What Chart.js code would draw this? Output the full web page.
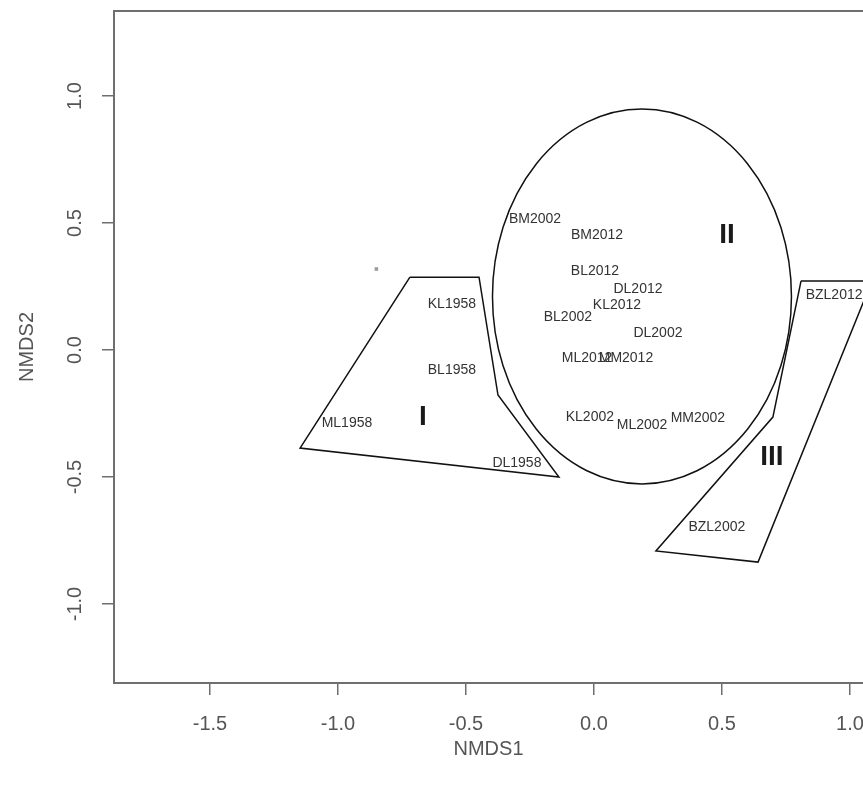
<!DOCTYPE html>
<html>
<head>
<meta charset="utf-8">
<script src="https://cdn.jsdelivr.net/npm/chart.js@4.4.1/dist/chart.umd.min.js"></script>
<style>
    html, body { margin: 0; padding: 0; background: #fff; overflow: hidden; }
    /* the plot box runs off the right edge of the window, like the source image */
    #wrap { width: 867px; height: 785px; }
</style>
</head>
<body>
<div id="wrap"><canvas id="nmds_chart"></canvas></div>
<script>
// site scores
const siteNames = ['BM2002', 'BM2012', 'BL2012', 'DL2012', 'KL2012', 'BL2002', 'DL2002',
    'ML2012', 'MM2012', 'KL2002', 'ML2002', 'MM2002', 'BZL2012', 'BZL2002',
    'KL1958', 'BL1958', 'ML1958', 'DL1958'];
const siteX = [-0.230, 0.012, 0.004, 0.172, 0.090, -0.102, 0.250,
    -0.027, 0.125, -0.016, 0.188, 0.406, 0.938, 0.480,
    -0.555, -0.555, -0.965, -0.301];
const siteY = [0.516, 0.453, 0.311, 0.240, 0.177, 0.130, 0.067,
    -0.031, -0.031, -0.264, -0.295, -0.268, 0.217, -0.697,
    0.181, -0.079, -0.287, -0.445];

// the lone tiny mark left of group I
const strayX = [-0.850];
const strayY = [0.319];

// group names
const groupNames = ['I', 'II', 'III'];
const groupX = [-0.668, 0.520, 0.695];
const groupY = [-0.264, 0.453, -0.421];

// outlines of group I and group III (first vertex repeated to close)
const hullIX = [-0.719, -0.449, -0.375, -0.137, -1.148, -0.719];
const hullIY = [0.287, 0.287, -0.177, -0.500, -0.386, 0.287];
const hullIIIX = [0.809, 1.086, 0.641, 0.242, 0.699, 0.809];
const hullIIIY = [0.272, 0.272, -0.835, -0.791, -0.264, 0.272];

// group II ellipse: centre and half-widths
const ellipseCenter = [0.1875, 0.211];
const ellipseRadius = [0.584, 0.738];

// axes
const xTicks = [-1.5, -1.0, -0.5, 0.0, 0.5, 1.0];
const yTicks = [-1.0, -0.5, 0.0, 0.5, 1.0];
const xRange = [-1.875, 1.051];
const yRange = [-1.311, 1.335];

function toPoints(xs, ys) {
    return xs.map((v, i) => ({ x: v, y: ys[i] }));
}

const axisGrey = '#6f6f6f';
const textGrey = '#555555';
const fontFam = '"Liberation Sans", Arial, sans-serif';

// draws the group II ellipse through the chart's scales
const ellipsePlugin = {
    id: 'ellipseII',
    beforeDatasetsDraw(chart) {
        const { ctx, chartArea, scales } = chart;
        const cx = scales.x.getPixelForValue(ellipseCenter[0]);
        const cy = scales.y.getPixelForValue(ellipseCenter[1]);
        const rx = scales.x.getPixelForValue(ellipseCenter[0] + ellipseRadius[0]) - cx;
        const ry = cy - scales.y.getPixelForValue(ellipseCenter[1] + ellipseRadius[1]);
        ctx.save();
        ctx.beginPath();
        ctx.rect(chartArea.left, chartArea.top, chartArea.width, chartArea.height);
        ctx.clip();
        ctx.beginPath();
        ctx.ellipse(cx, cy, rx, ry, 0, 0, Math.PI * 2);
        ctx.lineWidth = 1.5;
        ctx.strokeStyle = '#111';
        ctx.stroke();
        ctx.restore();
    }
};

// writes text labels at the points of datasets that carry a "labels" list
const textPlugin = {
    id: 'pointText',
    afterDatasetsDraw(chart) {
        const { ctx, chartArea } = chart;
        ctx.save();
        ctx.beginPath();
        ctx.rect(chartArea.left, chartArea.top, chartArea.width, chartArea.height);
        ctx.clip();
        chart.data.datasets.forEach((ds, di) => {
            if (!ds.labels) return;
            const meta = chart.getDatasetMeta(di);
            ctx.font = ds.labelFont;
            ctx.fillStyle = ds.labelColor;
            ctx.textAlign = 'center';
            ctx.textBaseline = 'middle';
            meta.data.forEach((pt, i) => {
                ctx.fillText(ds.labels[i], pt.x, pt.y);
            });
        });
        ctx.restore();
    }
};

const ctx = document.getElementById('nmds_chart').getContext('2d');
const nmdsChart = new Chart(ctx, {
    type: 'scatter',
    data: {
        datasets: [{
            label: 'Group I',
            data: toPoints(hullIX, hullIY),
            showLine: true,
            borderColor: '#111',
            borderWidth: 1.5,
            pointRadius: 0,
            tension: 0
        }, {
            label: 'Group III',
            data: toPoints(hullIIIX, hullIIIY),
            showLine: true,
            borderColor: '#111',
            borderWidth: 1.5,
            pointRadius: 0,
            tension: 0
        }, {
            label: 'Sites',
            data: toPoints(siteX, siteY),
            pointRadius: 0,
            labels: siteNames,
            labelFont: '14px ' + fontFam,
            labelColor: '#333'
        }, {
            label: 'Groups',
            data: toPoints(groupX, groupY),
            pointRadius: 0,
            labels: groupNames,
            labelFont: 'bold 28px ' + fontFam,
            labelColor: '#1a1a1a'
        }, {
            label: 'Stray',
            data: toPoints(strayX, strayY),
            pointStyle: 'rect',
            pointRadius: 2.5,
            backgroundColor: '#9a9a9a',
            borderWidth: 0
        }]
    },
    options: {
        responsive: true,
        maintainAspectRatio: false,
        animation: false,
        layout: { padding: { left: 0, top: 11, right: 0, bottom: 0 } },
        plugins: {
            legend: { display: false },
            tooltip: { enabled: false }
        },
        scales: {
            x: {
                type: 'linear',
                position: 'bottom',
                min: xRange[0],
                max: xRange[1],
                afterBuildTicks: (scale) => { scale.ticks = xTicks.map(v => ({ value: v })); },
                afterFit: (scale) => { scale.height = 102; scale.paddingLeft = 0; scale.paddingRight = 0; },
                grid: { drawOnChartArea: false, drawTicks: true, tickLength: 12, color: axisGrey, lineWidth: 1.5 },
                border: { display: true, color: axisGrey, width: 2 },
                ticks: {
                    maxRotation: 0,
                    padding: 17,
                    color: textGrey,
                    font: { family: fontFam, size: 20 },
                    callback: (v) => v.toFixed(1)
                },
                title: {
                    display: true,
                    text: 'NMDS1',
                    color: textGrey,
                    font: { family: fontFam, size: 20 },
                    padding: { top: 0, bottom: 24 }
                }
            },
            xTop: {
                type: 'linear',
                position: 'top',
                min: xRange[0],
                max: xRange[1],
                afterFit: (scale) => { scale.height = 0; scale.paddingLeft = 0; scale.paddingRight = 0; },
                grid: { drawOnChartArea: false, drawTicks: false },
                border: { display: true, color: axisGrey, width: 2 },
                ticks: { display: false }
            },
            y: {
                type: 'linear',
                position: 'left',
                min: yRange[0],
                max: yRange[1],
                afterBuildTicks: (scale) => { scale.ticks = yTicks.map(v => ({ value: v })); },
                afterFit: (scale) => { scale.width = 114; scale.paddingTop = 0; scale.paddingBottom = 0; },
                grid: { drawOnChartArea: false, drawTicks: true, tickLength: 12, color: axisGrey, lineWidth: 1.5 },
                border: { display: true, color: axisGrey, width: 2 },
                ticks: {
                    minRotation: 90,
                    maxRotation: 90,
                    crossAlign: 'center',
                    padding: 9,
                    color: textGrey,
                    font: { family: fontFam, size: 20 },
                    callback: (v) => v.toFixed(1)
                },
                title: {
                    display: true,
                    text: 'NMDS2',
                    color: textGrey,
                    font: { family: fontFam, size: 20 },
                    padding: { top: 15, bottom: 0 }
                }
            }
        }
    },
    plugins: [ellipsePlugin, textPlugin]
});
</script>
</body>
</html>
